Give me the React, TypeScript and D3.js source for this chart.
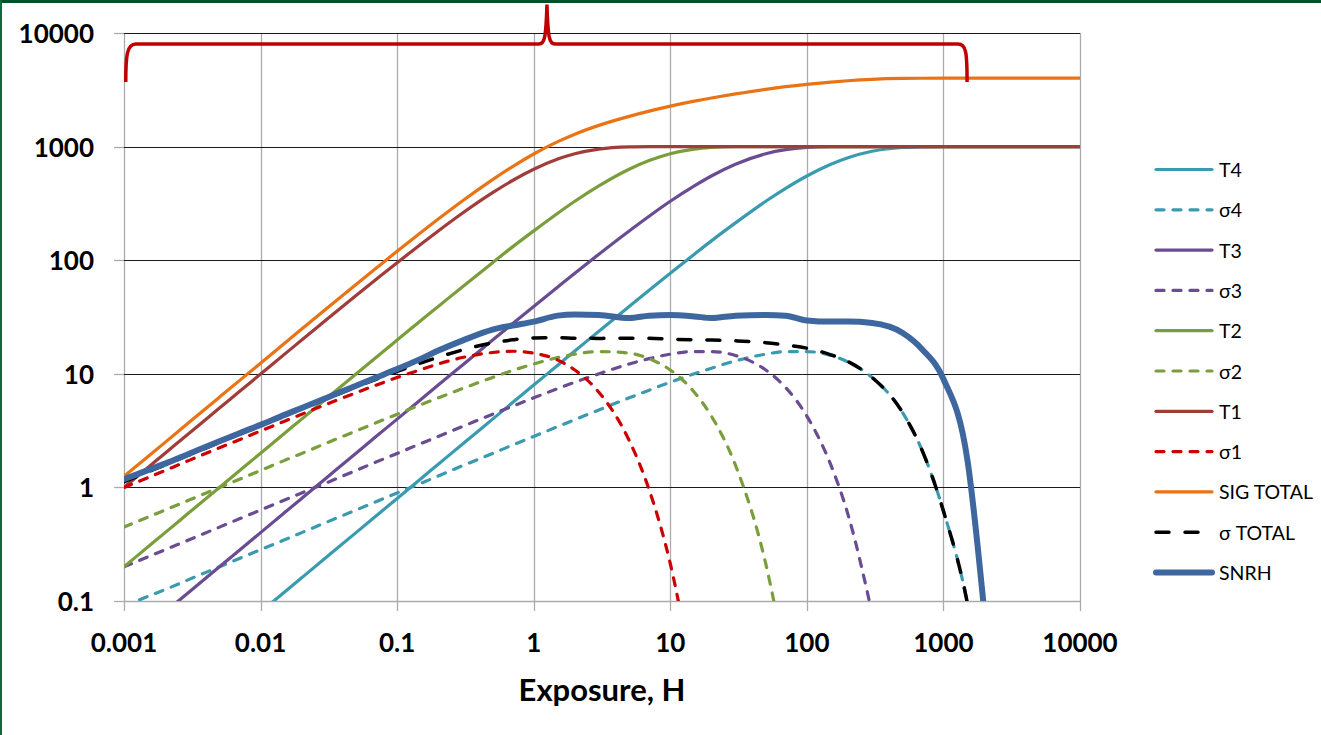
import React, { useEffect, useRef } from "react";
import * as d3 from "d3";

// exposure grid (H) shared by all series
const exposure = [
  0.001, 0.0015, 0.002, 0.003, 0.005, 0.007,
  0.01, 0.015, 0.02, 0.03, 0.05, 0.07,
  0.1, 0.15, 0.2, 0.3, 0.5, 0.7,
  1, 1.5, 2, 3, 5, 7,
  10, 15, 20, 30, 50, 70,
  100, 150, 200, 300, 500, 700,
  1000, 1500, 2000, 3000, 5000, 7000, 10000,
];

const t1 = [
  1.0, 1.5, 2.0, 3.0, 4.99, 6.98,
  9.95, 14.9, 19.8, 29.6, 48.8, 67.6,
  95.2, 139, 181, 259, 393, 503,
  632, 777, 865, 950, 993, 999,
  1000, 1000, 1000, 1000, 1000, 1000,
  1000, 1000, 1000, 1000, 1000, 1000,
  1000, 1000, 1000, 1000, 1000, 1000, 1000,
];
const t2 = [
  0.2, 0.3, 0.4, 0.6, 1.0, 1.4,
  2.0, 3.0, 3.99, 5.98, 9.95, 13.9,
  19.8, 29.6, 39.2, 58.2, 95.2, 131,
  181, 259, 330, 451, 632, 753,
  865, 950, 982, 998, 1000, 1000,
  1000, 1000, 1000, 1000, 1000, 1000,
  1000, 1000, 1000, 1000, 1000, 1000, 1000,
];
const t3 = [
  0.04, 0.06, 0.08, 0.12, 0.2, 0.28,
  0.4, 0.6, 0.8, 1.2, 2.0, 2.8,
  3.99, 5.98, 7.97, 11.9, 19.8, 27.6,
  39.2, 58.2, 76.9, 113, 181, 244,
  330, 451, 551, 699, 865, 939,
  982, 998, 1000, 1000, 1000, 1000,
  1000, 1000, 1000, 1000, 1000, 1000, 1000,
];
const t4 = [
  0.008, 0.012, 0.016, 0.024, 0.04, 0.056,
  0.08, 0.12, 0.16, 0.24, 0.4, 0.56,
  0.8, 1.2, 1.6, 2.4, 3.99, 5.58,
  7.97, 11.9, 15.9, 23.7, 39.2, 54.5,
  76.9, 113, 148, 213, 330, 429,
  551, 699, 798, 909, 982, 996,
  1000, 1000, 1000, 1000, 1000, 1000, 1000,
];
const s1 = [
  0.999, 1.22, 1.41, 1.73, 2.23, 2.63,
  3.14, 3.83, 4.41, 5.36, 6.81, 7.94,
  9.28, 10.9, 12.2, 13.9, 15.4, 15.8,
  15.2, 13.2, 10.8, 6.88, 2.59, 0.954,
  0.213, 0.0175, null, null, null, null,
  null, null, null, null, null, null,
  null, null, null, null, null, null, null,
];
const s2 = [
  0.447, 0.548, 0.632, 0.774, 0.999, 1.18,
  1.41, 1.73, 1.99, 2.44, 3.14, 3.70,
  4.41, 5.36, 6.14, 7.41, 9.28, 10.7,
  12.2, 13.9, 14.9, 15.7, 15.2, 13.6,
  10.8, 6.88, 4.24, 1.57, 0.213, 0.0288,
  null, null, null, null, null, null,
  null, null, null, null, null, null, null,
];
const s3 = [
  0.2, 0.245, 0.283, 0.346, 0.447, 0.529,
  0.632, 0.774, 0.894, 1.09, 1.41, 1.67,
  1.99, 2.44, 2.81, 3.43, 4.41, 5.18,
  6.14, 7.41, 8.42, 10.0, 12.2, 13.6,
  14.9, 15.7, 15.7, 14.5, 10.8, 7.56,
  4.24, 1.57, 0.579, 0.0784, null, null,
  null, null, null, null, null, null, null,
];
const s4 = [
  0.0894, 0.110, 0.126, 0.155, 0.2, 0.237,
  0.283, 0.346, 0.4, 0.49, 0.632, 0.748,
  0.894, 1.09, 1.26, 1.55, 1.99, 2.36,
  2.81, 3.43, 3.95, 4.81, 6.14, 7.18,
  8.42, 10.0, 11.2, 13.0, 14.9, 15.7,
  15.7, 14.5, 12.7, 9.3, 4.6, 2.1,
  0.62, 0.095, 0.012, null, null, null, null,
];
const sigTotal = [
  1.25, 1.87, 2.49, 3.74, 6.23, 8.71,
  12.4, 18.6, 24.8, 37.0, 61.1, 84.9,
  120, 176, 230, 332, 512, 667,
  861, 1106, 1287, 1538, 1846, 2051,
  2271, 2514, 2680, 2910, 3194, 3368,
  3532, 3696, 3798, 3909, 3982, 3996,
  4000, 4000, 4000, 4000, 4000, 4000, 4000,
];
const sTotal = [
  1.12, 1.37, 1.58, 1.93, 2.49, 2.94,
  3.51, 4.29, 4.93, 6.01, 7.66, 8.95,
  10.5, 12.5, 14.0, 16.2, 18.7, 19.9,
  20.7, 20.8, 20.6, 20.5, 20.6, 20.6,
  20.2, 19.9, 19.8, 19.5, 18.8, 17.9,
  16.8, 14.7, 12.8, 9.3, 4.6, 2.1,
  0.62, 0.095, 0.012, null, null, null, null,
];
const snrh = [
  1.18, 1.42, 1.62, 1.98, 2.55, 3.0,
  3.55, 4.35, 5.0, 6.1, 7.85, 9.25,
  11.0, 13.6, 16.0, 19.6, 24.5, 26.6,
  28.8, 32.5, 33.3, 33.0, 31.0, 32.5,
  33.0, 32.0, 31.0, 32.5, 33.0, 32.5,
  29.5, 28.8, 28.8, 28.0, 23.0, 16.4,
  9.0, 1.73, 0.076, null, null, null, null,
];

const xTicks = [0.001, 0.01, 0.1, 1, 10, 100, 1000, 10000];
const xTickLabels = ["0.001", "0.01", "0.1", "1", "10", "100", "1000", "10000"];
const yTicks = [0.1, 1, 10, 100, 1000, 10000];
const yTickLabels = ["0.1", "1", "10", "100", "1000", "10000"];

// brace annotation above the plot (exposure / value positions)
const braceH = [0.00103, 1.25, 1490];
const braceV = [3700, 8000, 17800];

const teal = "#3a9bb0";
const purple = "#6a4c93";
const green = "#7a9e3b";
const brown = "#a03d3a";

const series = [
  { name: "T4", values: t4, color: teal, width: 3.2, dash: null },
  { name: "σ4", values: s4, color: teal, width: 3.2, dash: "8,9" },
  { name: "T3", values: t3, color: purple, width: 3.2, dash: null },
  { name: "σ3", values: s3, color: purple, width: 3.2, dash: "8,9" },
  { name: "T2", values: t2, color: green, width: 3.2, dash: null },
  { name: "σ2", values: s2, color: green, width: 3.2, dash: "8,9" },
  { name: "T1", values: t1, color: brown, width: 3.2, dash: null },
  { name: "σ1", values: s1, color: "#cc0000", width: 3.2, dash: "8,9" },
  { name: "SIG TOTAL", values: sigTotal, color: "#ea7316", width: 3.2, dash: null },
  { name: "σ TOTAL", values: sTotal, color: "#000000", width: 3.5, dash: "13,16" },
  { name: "SNRH", values: snrh, color: "#3e67a0", width: 6, dash: null },
];

const W = 1321;
const H = 735;
const left = 124, right = 1080, top = 33, bottom = 601;

function App() {
  const ref = useRef<SVGSVGElement>(null);

  useEffect(() => {
    const svg = d3.select(ref.current);
    svg.selectAll("*").remove();

    const x = d3.scaleLog().domain([0.001, 10000]).range([left, right]);
    const y = d3.scaleLog().domain([0.1, 10000]).range([bottom, top]);
    const px = (v: number) => Math.round(v) + 0.5;

    // frame
    svg.append("rect").attr("x", 0).attr("y", 0).attr("width", W).attr("height", H).attr("fill", "#fff");
    svg.append("rect").attr("x", 0).attr("y", 0).attr("width", W).attr("height", 3).attr("fill", "#00502b");
    svg.append("rect").attr("x", 0).attr("y", 0).attr("width", 2).attr("height", H).attr("fill", "#0b6a3a");

    // vertical grid + x ticks
    const grid = svg.append("g");
    xTicks.forEach((t) => {
      grid.append("line")
        .attr("x1", px(x(t))).attr("x2", px(x(t)))
        .attr("y1", top).attr("y2", bottom + 10)
        .attr("stroke", "#ababab").attr("stroke-width", 1.3);
    });
    // horizontal grid + y ticks
    yTicks.forEach((t) => {
      const yy = px(y(t));
      grid.append("line")
        .attr("x1", left - 10).attr("x2", left)
        .attr("y1", yy).attr("y2", yy)
        .attr("stroke", "#ababab").attr("stroke-width", 1.3);
      grid.append("line")
        .attr("x1", left).attr("x2", right)
        .attr("y1", yy).attr("y2", yy)
        .attr("stroke", t === 0.1 ? "#ababab" : "#1a1a1a")
        .attr("stroke-width", t === 0.1 ? 1.6 : 1);
    });

    // tick labels
    const labels = svg.append("g")
      .attr("font-family", "Lato, 'Open Sans', sans-serif")
      .attr("font-weight", "bold")
      .attr("font-size", 26)
      .attr("fill", "#000");
    yTicks.forEach((t, i) => {
      labels.append("text")
        .attr("x", 94).attr("y", y(t))
        .attr("text-anchor", "end").attr("dominant-baseline", "central")
        .text(yTickLabels[i]);
    });
    xTicks.forEach((t, i) => {
      labels.append("text")
        .attr("x", x(t)).attr("y", 652)
        .attr("text-anchor", "middle")
        .text(xTickLabels[i]);
    });
    svg.append("text")
      .attr("x", 602).attr("y", 701)
      .attr("text-anchor", "middle")
      .attr("font-family", "Lato, 'Open Sans', sans-serif")
      .attr("font-weight", "bold").attr("font-size", 31)
      .text("Exposure, H");

    // curves
    svg.append("clipPath").attr("id", "plot-clip")
      .append("rect").attr("x", left).attr("y", top)
      .attr("width", right - left).attr("height", bottom - top);

    const line = d3.line<number | null>()
      .defined((d) => d != null)
      .x((d, i) => x(exposure[i]))
      .y((d) => y(d as number))
      .curve(d3.curveMonotoneX);

    const curves = svg.append("g").attr("clip-path", "url(#plot-clip)");
    series.forEach((s) => {
      curves.append("path")
        .attr("d", line(s.values))
        .attr("fill", "none")
        .attr("stroke", s.color)
        .attr("stroke-width", s.width)
        .attr("stroke-linecap", "round")
        .attr("stroke-linejoin", "round")
        .attr("stroke-dasharray", s.dash);
    });

    // brace
    const bx0 = x(braceH[0]), bxm = x(braceH[1]), bx1 = x(braceH[2]);
    const yFoot = y(braceV[0]), yLev = y(braceV[1]), yTip = y(braceV[2]);
    const brace = d3.path();
    brace.moveTo(bx0, yFoot);
    brace.bezierCurveTo(bx0, yLev + 12, bx0 + 1, yLev, bx0 + 10, yLev);
    brace.lineTo(bxm - 8, yLev);
    brace.bezierCurveTo(bxm - 2, yLev, bxm - 1, yLev - 8, bxm, yTip);
    brace.bezierCurveTo(bxm + 1, yLev - 8, bxm + 2, yLev, bxm + 8, yLev);
    brace.lineTo(bx1 - 9, yLev);
    brace.bezierCurveTo(bx1 - 1, yLev, bx1, yLev + 8, bx1, yFoot);
    svg.append("path")
      .attr("d", brace.toString())
      .attr("fill", "none")
      .attr("stroke", "#c00000")
      .attr("stroke-width", 3.5);

    // legend
    const legend = svg.append("g")
      .attr("font-family", "Lato, 'Open Sans', sans-serif")
      .attr("font-size", 19.5);
    series.forEach((s, i) => {
      const ly = 169.5 + i * 40.3;
      legend.append("line")
        .attr("x1", 1156).attr("x2", 1212)
        .attr("y1", ly).attr("y2", ly)
        .attr("stroke", s.color)
        .attr("stroke-width", s.width)
        .attr("stroke-linecap", "round")
        .attr("stroke-dasharray", s.dash);
      legend.append("text")
        .attr("x", 1219).attr("y", ly)
        .attr("dominant-baseline", "central")
        .attr("fill", "#000")
        .text(s.name);
    });
  }, []);

  return (
    <svg
      ref={ref}
      width={W}
      height={H}
      style={{ position: "absolute", left: 0, top: 0, display: "block" }}
    />
  );
}

export default App;
